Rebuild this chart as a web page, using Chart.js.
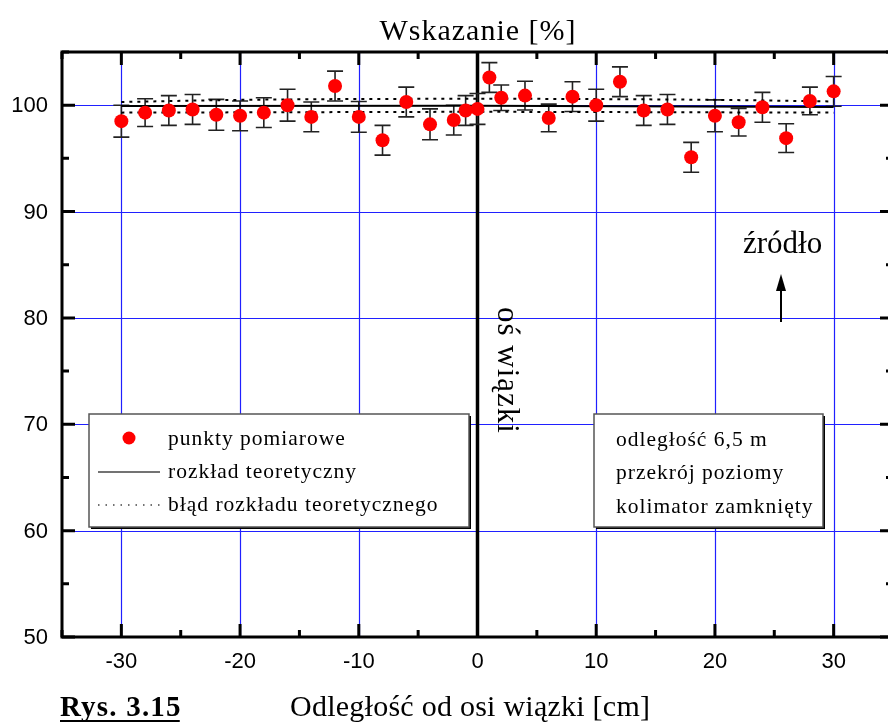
<!DOCTYPE html>
<html>
<head>
<meta charset="utf-8">
<script src="https://cdn.jsdelivr.net/npm/chart.js@4/dist/chart.umd.min.js"></script>
<style>
html,body{margin:0;padding:0;background:#fff;overflow:hidden;width:888px;height:725px;}
#wrap{position:absolute;left:0;top:0;width:900px;height:725px;}
</style>
</head>
<body>
<div id="wrap"><canvas id="c" width="900" height="725"></canvas></div>
<script>
// ---- data ----
const xValues = [-30,-28,-26,-24,-22,-20,-18,-16,-14,-12,-10,-8,-6,-4,-2,-1,0,1,2,4,6,8,10,12,14,16,18,20,22,24,26,28,30];
const yValues = [98.5,99.3,99.5,99.6,99.1,99.0,99.3,100.0,98.9,101.8,98.9,96.7,100.3,98.2,98.6,99.5,99.65,102.6,100.7,100.9,98.8,100.8,100.0,102.2,99.5,99.6,95.1,99.0,98.4,99.8,96.9,100.4,101.3];
const yErrors = [1.5,1.3,1.4,1.4,1.45,1.4,1.4,1.5,1.4,1.4,1.45,1.4,1.4,1.45,1.4,1.4,1.45,1.4,1.2,1.35,1.3,1.4,1.5,1.4,1.4,1.4,1.4,1.5,1.3,1.4,1.35,1.3,1.4];
const theoryX = [-30,0,30];
const theoryY = [99.93,99.95,99.84];
const upperX = [-30,-20,0,20,30];
const upperY = [100.3,100.5,100.6,100.5,100.35];
const lowerX = [-30,0,30];
const lowerY = [99.3,99.38,99.3];
const xTickLabels = [-30,-20,-10,0,10,20,30];
const yTickLabels = [50,60,70,80,90,100];
const xMinorTicks = [-35,-25,-15,-5,5,15,25,35];
const yMinorTicks = [55,65,75,85,95,105];
const titleText = "Wskazanie [%]";
const xTitleText = "Odległość od osi wiązki [cm]";
const figText = "Rys. 3.15";
const legendLabels = ["punkty pomiarowe","rozkład teoretyczny","błąd rozkładu teoretycznego"];
const infoLines = ["odległość 6,5 m","przekrój poziomy","kolimator zamknięty"];
const axisNote = "oś wiązki";
const sourceNote = "źródło";

const toPts = (xs, ys) => xs.map((x,i)=>({x:x, y:ys[i]}));

const SERIF = '"Liberation Serif","Times New Roman",serif';
const SANS = '"Liberation Sans",Arial,sans-serif';

const custom = {
  id:'custom',
  beforeDatasetsDraw(chart){
    const ctx = chart.ctx, xs = chart.scales.x, ys = chart.scales.y, a = chart.chartArea;
    ctx.save();
    // blue grid
    ctx.strokeStyle = '#2020ff'; ctx.lineWidth = 1.2;
    xTickLabels.forEach(v=>{ if(v===0) return; const px = Math.round(xs.getPixelForValue(v))+0.5;
      ctx.beginPath(); ctx.moveTo(px,a.top); ctx.lineTo(px,a.bottom); ctx.stroke(); });
    yTickLabels.forEach(v=>{ if(v===50) return; const py = Math.round(ys.getPixelForValue(v))+0.5;
      ctx.beginPath(); ctx.moveTo(a.left,py); ctx.lineTo(a.right,py); ctx.stroke(); });
    // beam axis line at x=0
    ctx.strokeStyle = '#000'; ctx.lineWidth = 3.5;
    const x0 = xs.getPixelForValue(0);
    ctx.beginPath(); ctx.moveTo(x0,a.top); ctx.lineTo(x0,a.bottom); ctx.stroke();
    // error bars
    ctx.strokeStyle = '#222'; ctx.lineWidth = 1.6;
    xValues.forEach((xv,i)=>{
      const px = xs.getPixelForValue(xv);
      const t = ys.getPixelForValue(yValues[i]+yErrors[i]);
      const b = ys.getPixelForValue(yValues[i]-yErrors[i]);
      ctx.beginPath();
      ctx.moveTo(px,t); ctx.lineTo(px,b);
      ctx.moveTo(px-8,t); ctx.lineTo(px+8,t);
      ctx.moveTo(px-8,b); ctx.lineTo(px+8,b);
      ctx.stroke();
    });
    ctx.restore();
  },
  afterDraw(chart){
    const ctx = chart.ctx, xs = chart.scales.x, ys = chart.scales.y, a = chart.chartArea;
    ctx.save();
    // frame
    ctx.strokeStyle = '#000'; ctx.lineWidth = 3;
    ctx.strokeRect(a.left, a.top, a.right-a.left, a.bottom-a.top);
    // ticks
    ctx.lineWidth = 3;
    const tick = (len, list, isX) => list.forEach(v=>{
      if(isX){ const px = xs.getPixelForValue(v);
        ctx.beginPath(); ctx.moveTo(px,a.bottom); ctx.lineTo(px,a.bottom-len);
        ctx.moveTo(px,a.top); ctx.lineTo(px,a.top+len); ctx.stroke();
      } else { const py = ys.getPixelForValue(v);
        ctx.beginPath(); ctx.moveTo(a.left,py); ctx.lineTo(a.left+len,py);
        ctx.moveTo(a.right,py); ctx.lineTo(a.right-len,py); ctx.stroke(); }
    });
    tick(13, xTickLabels, true); tick(7, xMinorTicks, true);
    tick(13, yTickLabels, false); tick(7, yMinorTicks, false);
    // tick labels
    ctx.fillStyle = '#000';
    ctx.font = '22px ' + SANS;
    ctx.textAlign = 'center'; ctx.textBaseline = 'middle';
    xTickLabels.forEach(v=> ctx.fillText(String(v), xs.getPixelForValue(v), 662));
    ctx.textAlign = 'right';
    yTickLabels.forEach(v=> ctx.fillText(String(v), 48, ys.getPixelForValue(v)+1));
    // titles
    ctx.font = '30px ' + SERIF; ctx.textAlign = 'center'; ctx.textBaseline = 'alphabetic';
    ctx.letterSpacing = '1px';
    ctx.fillText(titleText, 478, 40);
    ctx.textAlign = 'left';
    ctx.letterSpacing = '0.25px';
    ctx.fillText(xTitleText, 290, 716);
    ctx.font = 'bold 29px ' + SERIF;
    ctx.letterSpacing = '1.2px';
    ctx.fillText(figText, 60, 716);
    const fw = ctx.measureText(figText).width;
    ctx.lineWidth = 2; ctx.beginPath(); ctx.moveTo(60,721); ctx.lineTo(58+fw,721); ctx.stroke();
    // boxes
    const box = (l,t,r,b)=>{
      ctx.fillStyle = '#000'; ctx.fillRect(l+2,t+2,r-l,b-t);
      ctx.fillStyle = '#fff'; ctx.fillRect(l,t,r-l,b-t);
      ctx.strokeStyle = '#555'; ctx.lineWidth = 1.5; ctx.strokeRect(l,t,r-l,b-t);
    };
    box(89,414,469,527);
    box(594,414,823,527);
    ctx.fillStyle = '#000';
    ctx.font = '21.5px ' + SERIF; ctx.textBaseline = 'middle'; ctx.textAlign = 'left';
    ctx.letterSpacing = '1px';
    ctx.fillText(legendLabels[0], 168, 439);
    ctx.fillText(legendLabels[1], 168, 472);
    ctx.fillText(legendLabels[2], 168, 505);
    ctx.fillStyle = 'red'; ctx.beginPath(); ctx.arc(129,438,6.5,0,Math.PI*2); ctx.fill();
    ctx.strokeStyle = '#444'; ctx.lineWidth = 1.5;
    ctx.beginPath(); ctx.moveTo(98,472); ctx.lineTo(160,472); ctx.stroke();
    ctx.setLineDash([1.5,6]);
    ctx.beginPath(); ctx.moveTo(98,505); ctx.lineTo(160,505); ctx.stroke();
    ctx.setLineDash([]);
    ctx.fillStyle = '#000';
    infoLines.forEach((s,i)=> ctx.fillText(s, 616, 440+i*33.5));
    // rotated beam-axis note
    ctx.save();
    ctx.translate(498, 307);
    ctx.rotate(Math.PI/2);
    ctx.font = '31px ' + SERIF; ctx.textBaseline = 'alphabetic'; ctx.textAlign = 'left';
    ctx.letterSpacing = '1px';
    ctx.fillText(axisNote, 0, 0);
    ctx.restore();
    // source note + arrow
    ctx.font = '31px ' + SERIF; ctx.textAlign = 'left'; ctx.textBaseline = 'alphabetic';
    ctx.letterSpacing = '0px';
    ctx.fillText(sourceNote, 743, 253);
    ctx.strokeStyle = '#000'; ctx.lineWidth = 2;
    ctx.beginPath(); ctx.moveTo(781,322); ctx.lineTo(781,285); ctx.stroke();
    ctx.beginPath(); ctx.moveTo(781,274); ctx.lineTo(776,291); ctx.lineTo(786,291); ctx.closePath(); ctx.fill();
    ctx.restore();
  }
};

new Chart(document.getElementById('c'), {
  type:'scatter',
  data:{ datasets:[
    { label:'punkty', data: toPts(xValues,yValues), pointRadius:7, pointHoverRadius:7,
      backgroundColor:'#ff0000', borderWidth:0, showLine:false },
    { label:'teoria', data: toPts(theoryX,theoryY), showLine:true, borderColor:'#000', borderWidth:2, pointRadius:0, fill:false },
    { label:'gorny', data: toPts(upperX,upperY), showLine:true, borderColor:'#000', borderWidth:2, borderDash:[3,5], pointRadius:0, fill:false, tension:0.4, cubicInterpolationMode:'monotone' },
    { label:'dolny', data: toPts(lowerX,lowerY), showLine:true, borderColor:'#000', borderWidth:2, borderDash:[3,5], pointRadius:0, fill:false }
  ]},
  options:{
    responsive:false, animation:false, events:[],
    layout:{ padding:{ left:62, right:4, top:52, bottom:88 } },
    plugins:{ legend:{display:false}, tooltip:{enabled:false}, title:{display:false} },
    scales:{
      x:{ type:'linear', min:-35, max:35, display:false },
      y:{ type:'linear', min:50, max:105, display:false }
    }
  },
  plugins:[custom]
});
</script>
</body>
</html>
